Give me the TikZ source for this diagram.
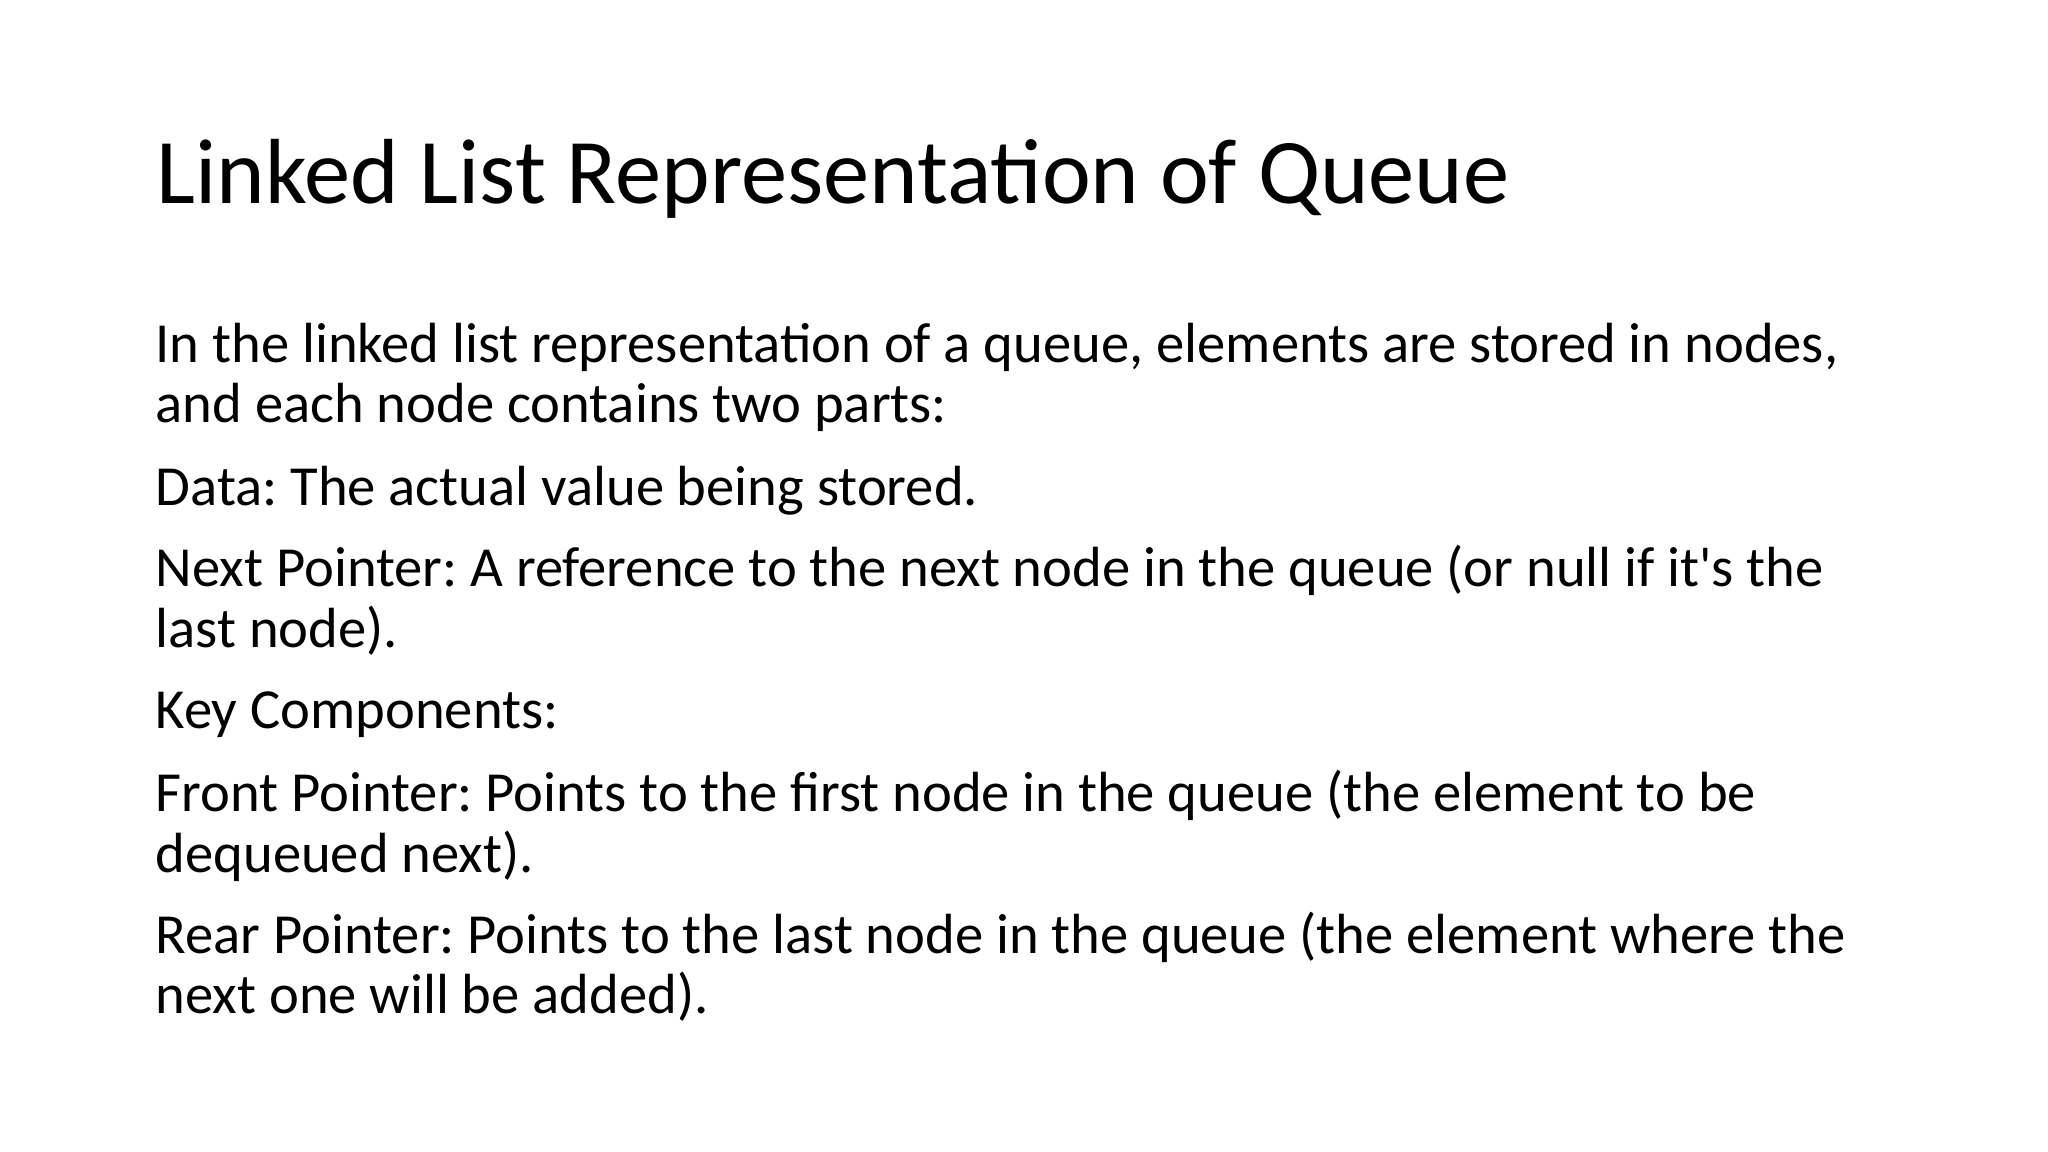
\documentclass[tikz,border=0pt]{standalone}
\usepackage{fontspec}
\setmainfont{Carlito}
\usetikzlibrary{positioning}
\frenchspacing
\tikzstyle{heading}=[anchor=base west,inner sep=0pt,font=\fontsize{26.3}{32}\selectfont]
\tikzstyle{bodyline}=[anchor=base west,inner sep=0pt,font=\fontsize{16.1}{20}\selectfont]
\begin{document}
\begin{tikzpicture}[x=0.01cm,y=-0.01cm]
    \useasboundingbox (0,0) rectangle (2048,1152);
    \node[heading] (title) at (156,204) {Linked List Representation of Queue};
    \node[bodyline] (intro1) at (155,363) {In the linked list representation of a queue, elements are stored in nodes,};
    \node[bodyline] (intro2) at (155,423) {and each node contains two parts:};
    \node[bodyline] (data) at (155,506) {Data: The actual value being stored.};
    \node[bodyline] (next1) at (155,587) {Next Pointer: A reference to the next node in the queue (or null if it\textquotesingle s the};
    \node[bodyline] (next2) at (155,647) {last node).};
    \node[bodyline] (key) at (155,728) {Key Components:};
    \node[bodyline] (front1) at (155,811) {Front Pointer: Points to the first node in the queue (the element to be};
    \node[bodyline] (front2) at (155,872) {dequeued next).};
    \node[bodyline] (rear1) at (155,953) {Rear Pointer: Points to the last node in the queue (the element where the};
    \node[bodyline] (rear2) at (155,1013) {next one will be added).};
\end{tikzpicture}
\end{document}
